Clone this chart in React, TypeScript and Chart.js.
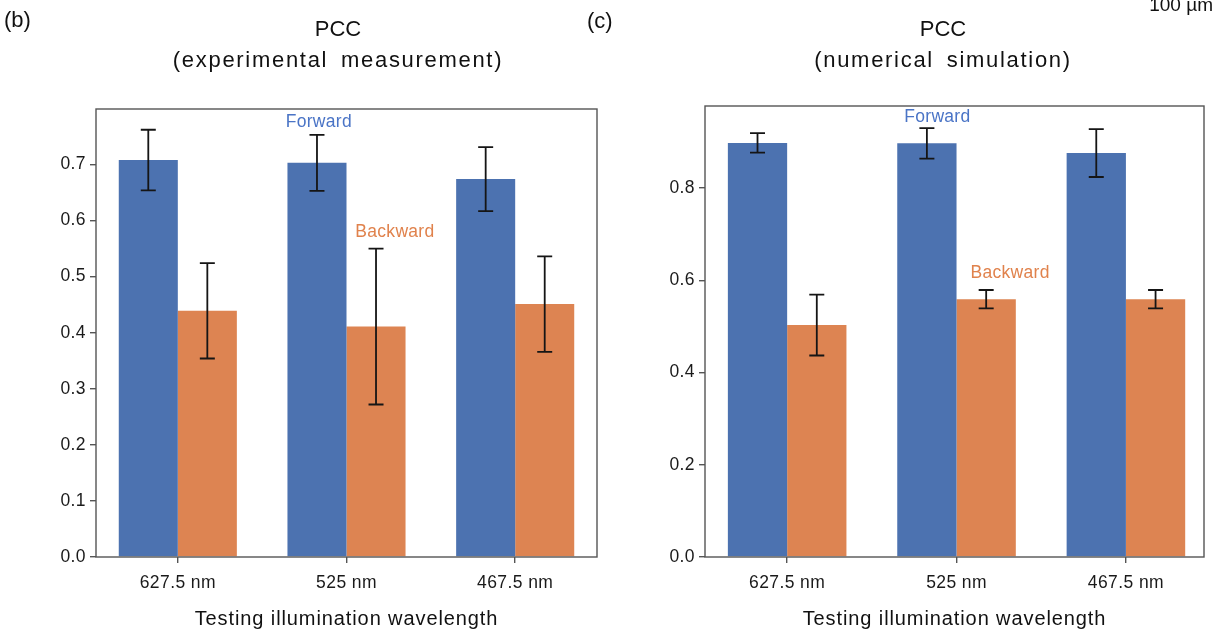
import React, { useEffect, useRef } from "react";
import { Chart, registerables } from "chart.js";

Chart.register(...registerables);

const categories = ["627.5 nm", "525 nm", "467.5 nm"];
const categoryPositions = [0, 1, 2];

const expForward = [0.708, 0.703, 0.674];
const expForwardErr = [0.054, 0.05, 0.057];
const expBackward = [0.439, 0.411, 0.451];
const expBackwardErr = [0.085, 0.139, 0.085];

const simForward = [0.898, 0.897, 0.876];
const simForwardErr = [0.021, 0.033, 0.052];
const simBackward = [0.503, 0.559, 0.559];
const simBackwardErr = [0.066, 0.02, 0.02];

const xAxisTitle = "Testing illumination wavelength";
const FONT = "'Liberation Sans', Arial, sans-serif";
const BLUE = "#4C72B0";
const ORANGE = "#DD8452";

type PanelProps = {
  title: string;
  subtitle: string;
  forward: number[];
  forwardErr: number[];
  backward: number[];
  backwardErr: number[];
  yMax: number;
  yStep: number;
  xMax: number;
  fwdLabel: { x: number; y: number };
  bwdLabel: { x: number; y: number };
  titleX: number;
  yWidth: number;
  topPad: number;
};

function Panel(p: PanelProps) {
  const ref = useRef<HTMLCanvasElement | null>(null);
  useEffect(() => {
    if (!ref.current) return;
    const errs = [p.forwardErr, p.backwardErr];
    const plugin = {
      id: "extras",
      beforeUpdate(chart: any) {
        chart.ctx.letterSpacing = "0.4px";
      },
      beforeDraw(chart: any) {
        chart.ctx.letterSpacing = "0.4px";
      },
      afterDatasetsDraw(chart: any) {
        const ctx = chart.ctx;
        const y = chart.scales.y;
        const x = chart.scales.x;
        ctx.save();
        ctx.strokeStyle = "#151515";
        ctx.lineWidth = 1.8;
        chart.data.datasets.forEach((ds: any, di: number) => {
          const meta = chart.getDatasetMeta(di);
          meta.data.forEach((bar: any, i: number) => {
            const v = ds.data[i].y;
            const e = errs[di][i];
            const top = y.getPixelForValue(v + e);
            const bot = y.getPixelForValue(v - e);
            const cx = bar.x;
            ctx.beginPath();
            ctx.moveTo(cx, top);
            ctx.lineTo(cx, bot);
            ctx.moveTo(cx - 7.5, top);
            ctx.lineTo(cx + 7.5, top);
            ctx.moveTo(cx - 7.5, bot);
            ctx.lineTo(cx + 7.5, bot);
            ctx.stroke();
          });
        });
        const a = chart.chartArea;
        ctx.strokeStyle = "#555555";
        ctx.lineWidth = 1.4;
        ctx.strokeRect(a.left, a.top, a.right - a.left, a.bottom - a.top);
        ctx.letterSpacing = "0.3px";
        ctx.font = `17.5px ${FONT}`;
        ctx.textAlign = "center";
        ctx.textBaseline = "middle";
        ctx.fillStyle = "#4A74C6";
        ctx.fillText("Forward", x.getPixelForValue(p.fwdLabel.x), y.getPixelForValue(p.fwdLabel.y));
        ctx.fillStyle = "#E0824C";
        ctx.fillText("Backward", x.getPixelForValue(p.bwdLabel.x), y.getPixelForValue(p.bwdLabel.y));
        ctx.fillStyle = "#111111";
        ctx.letterSpacing = "0px";
        ctx.font = `22px ${FONT}`;
        ctx.fillText(p.title, p.titleX, 30);
        ctx.letterSpacing = "1.7px";
        (ctx as any).wordSpacing = "5px";
        ctx.fillText(p.subtitle, p.titleX, 61);
        (ctx as any).wordSpacing = "0px";
        // x axis title
        ctx.letterSpacing = "0.9px";
        ctx.font = `20px ${FONT}`;
        ctx.fillText(xAxisTitle, (a.left + a.right) / 2, 619);
        ctx.restore();
      },
    };
    const chart = new Chart(ref.current, {
      type: "bar",
      data: {
        datasets: [
          {
            label: "Forward",
            data: categoryPositions.map((c, i) => ({ x: c, y: p.forward[i] })),
            backgroundColor: BLUE,
            borderWidth: 0,
          },
          {
            label: "Backward",
            data: categoryPositions.map((c, i) => ({ x: c, y: p.backward[i] })),
            backgroundColor: ORANGE,
            borderWidth: 0,
          },
        ],
      },
      options: {
        animation: false,
        responsive: false,
        maintainAspectRatio: false,
        datasets: { bar: { categoryPercentage: 0.7, barPercentage: 1.0 } },
        layout: { padding: { left: 0, right: 10, top: p.topPad, bottom: 0 } },
        plugins: {
          legend: { display: false },
          tooltip: { enabled: false },
          title: { display: false },
        },
        scales: {
          x: {
            type: "linear",
            offset: false,
            min: -0.485,
            max: p.xMax,
            afterBuildTicks: (s: any) => {
              s.ticks = categoryPositions.map((v) => ({ value: v }));
            },
            afterFit: (s: any) => {
              s.height = 78;
            },
            ticks: {
              callback: (v: any) => categories[Math.round(Number(v))],
              font: { size: 17.5, family: FONT },
              color: "#1a1a1a",
              padding: 10,
              maxRotation: 0,
              autoSkip: false,
            },
            grid: {
              display: true,
              offset: false,
              drawOnChartArea: false,
              drawTicks: true,
              tickLength: 6,
              color: "#555555",
              lineWidth: 1.4,
            },
            border: { display: false },
            title: { display: false },
          },
          y: {
            min: 0,
            max: p.yMax,
            afterBuildTicks: (s: any) => {
              const t: any[] = [];
              for (let v = 0; v <= p.yMax + 1e-9; v += p.yStep) t.push({ value: Math.round(v * 10) / 10 });
              s.ticks = t;
            },
            afterFit: (s: any) => {
              s.width = p.yWidth;
            },
            ticks: {
              callback: (v: any) => Number(v).toFixed(1),
              font: { size: 17.5, family: FONT },
              color: "#1a1a1a",
              padding: 4,
            },
            grid: {
              display: true,
              drawOnChartArea: false,
              drawTicks: true,
              tickLength: 6,
              color: "#555555",
              lineWidth: 1.4,
            },
            border: { display: false },
          },
        },
      },
      plugins: [plugin],
    });
    return () => chart.destroy();
  }, []);
  return <canvas ref={ref} width={607} height={635} style={{ width: 607, height: 635, display: "block" }} />;
}

export default function App() {
  useEffect(() => {
    document.body.style.margin = "0";
  }, []);
  const common = { position: "absolute" as const, top: 0 };
  return (
    <div style={{ position: "relative", width: 1215, height: 635, background: "#ffffff", overflow: "hidden", fontFamily: FONT }}>
      <div style={{ ...common, left: 0 }}>
        <Panel
          title="PCC"
          subtitle="(experimental measurement)"
          forward={expForward}
          forwardErr={expForwardErr}
          backward={expBackward}
          backwardErr={expBackwardErr}
          yMax={0.799}
          yStep={0.1}
          xMax={2.485}
          fwdLabel={{ x: 0.836, y: 0.775 }}
          bwdLabel={{ x: 1.287, y: 0.579 }}
          titleX={338}
          yWidth={96}
          topPad={109}
        />
      </div>
      <div style={{ ...common, left: 607 }}>
        <Panel
          title="PCC"
          subtitle="(numerical simulation)"
          forward={simForward}
          forwardErr={simForwardErr}
          backward={simBackward}
          backwardErr={simBackwardErr}
          yMax={0.978}
          yStep={0.2}
          xMax={2.461}
          fwdLabel={{ x: 0.887, y: 0.954 }}
          bwdLabel={{ x: 1.316, y: 0.615 }}
          titleX={336}
          yWidth={98}
          topPad={106}
        />
      </div>
      <div style={{ position: "absolute", left: 4, top: 7, fontSize: 22, color: "#111" }}>(b)</div>
      <div style={{ position: "absolute", left: 587, top: 8, fontSize: 22, color: "#111" }}>(c)</div>
      <div style={{ position: "absolute", right: 2, top: -6, fontSize: 19, color: "#111" }}>100 µm</div>
    </div>
  );
}
